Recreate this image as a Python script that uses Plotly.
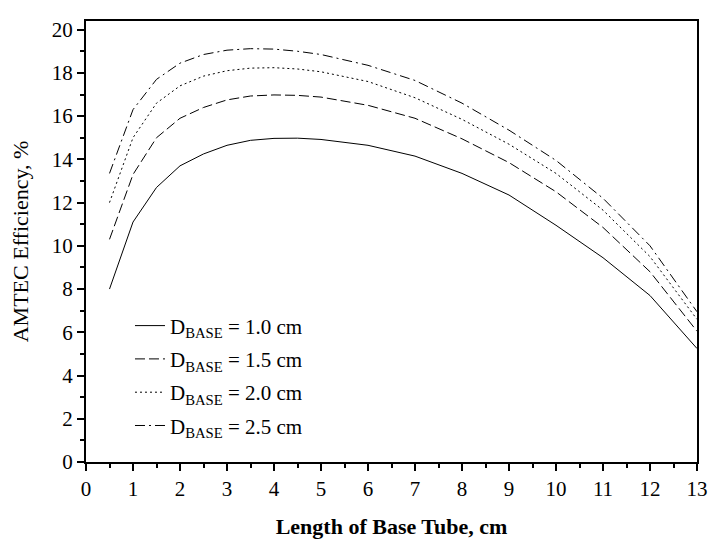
import plotly.graph_objects as go

# Length of base tube, cm
LENGTH = [0.5, 1, 1.5, 2, 2.5, 3, 3.5, 4, 4.5, 5, 6, 7, 8, 9, 10, 11, 12, 13]

# AMTEC efficiency, % for each base tube diameter
EFF_D10 = [8.0, 11.1, 12.7, 13.7, 14.25, 14.65, 14.88, 14.97, 14.98, 14.92, 14.65, 14.15, 13.35, 12.35, 10.95, 9.45, 7.7, 5.25]
EFF_D15 = [10.3, 13.3, 15.0, 15.9, 16.4, 16.75, 16.93, 16.98, 16.96, 16.88, 16.5, 15.9, 14.95, 13.85, 12.5, 10.85, 8.8, 6.05]
EFF_D20 = [12.0, 15.0, 16.6, 17.4, 17.85, 18.1, 18.22, 18.24, 18.18, 18.05, 17.6, 16.85, 15.85, 14.7, 13.35, 11.65, 9.5, 6.6]
EFF_D25 = [13.35, 16.3, 17.7, 18.45, 18.85, 19.05, 19.12, 19.1, 19.0, 18.85, 18.35, 17.65, 16.6, 15.35, 13.95, 12.2, 10.0, 6.95]

SERIES = [
    ("D<sub>BASE</sub> = 1.0 cm", EFF_D10, "solid"),
    ("D<sub>BASE</sub> = 1.5 cm", EFF_D15, "10px,4px"),
    ("D<sub>BASE</sub> = 2.0 cm", EFF_D20, "2px,3px"),
    ("D<sub>BASE</sub> = 2.5 cm", EFF_D25, "10px,4px,2px,4px"),
]

FONT = "Liberation Serif, Times New Roman, serif"

fig = go.Figure()

for i, (name, vals, dash) in enumerate(SERIES):
    fig.add_trace(
        go.Scatter(
            x=LENGTH,
            y=vals,
            mode="lines",
            name=name,
            legendgroup=f"g{i}",
            line={"color": "black", "width": 1, "dash": dash},
        )
    )

axis_common = {
    "showgrid": False,
    "zeroline": False,
    "showline": True,
    "linecolor": "black",
    "linewidth": 2,
    "mirror": True,
    "ticks": "outside",
    "ticklen": 7,
    "tickwidth": 2,
    "tickcolor": "black",
    "tickfont": {"family": FONT, "size": 21, "color": "black"},
}

fig.update_xaxes(
    range=[0, 13],
    tickmode="linear",
    tick0=0,
    dtick=1,
    minor={"dtick": 0.5, "ticks": "outside", "ticklen": 4, "tickwidth": 2, "tickcolor": "black"},
    title={"text": "<b>Length of Base Tube, cm</b>", "font": {"family": FONT, "size": 22, "color": "black"}, "standoff": 18},
    **axis_common,
)
fig.update_yaxes(
    range=[0, 20.4],
    tickmode="linear",
    tick0=0,
    dtick=2,
    minor={"dtick": 1, "ticks": "outside", "ticklen": 4, "tickwidth": 2, "tickcolor": "black"},
    title={"text": "AMTEC Efficiency, %", "font": {"family": FONT, "size": 22, "color": "black"}, "standoff": 17},
    **axis_common,
)

# page body adds ~8px offset, so figure is sized to fit inside the 717x546 window
fig.update_layout(
    width=710,
    height=537,
    paper_bgcolor="white",
    plot_bgcolor="white",
    font={"family": FONT, "color": "black"},
    margin={"l": 78, "r": 18, "t": 10, "b": 82},
    showlegend=True,
    legend={
        "x": 0.072,
        "y": 0.355,
        "xanchor": "left",
        "yanchor": "top",
        "bgcolor": "rgba(0,0,0,0)",
        "font": {"family": FONT, "size": 21, "color": "black"},
        "tracegroupgap": 3,
    },
)

fig.write_html("out.html")
